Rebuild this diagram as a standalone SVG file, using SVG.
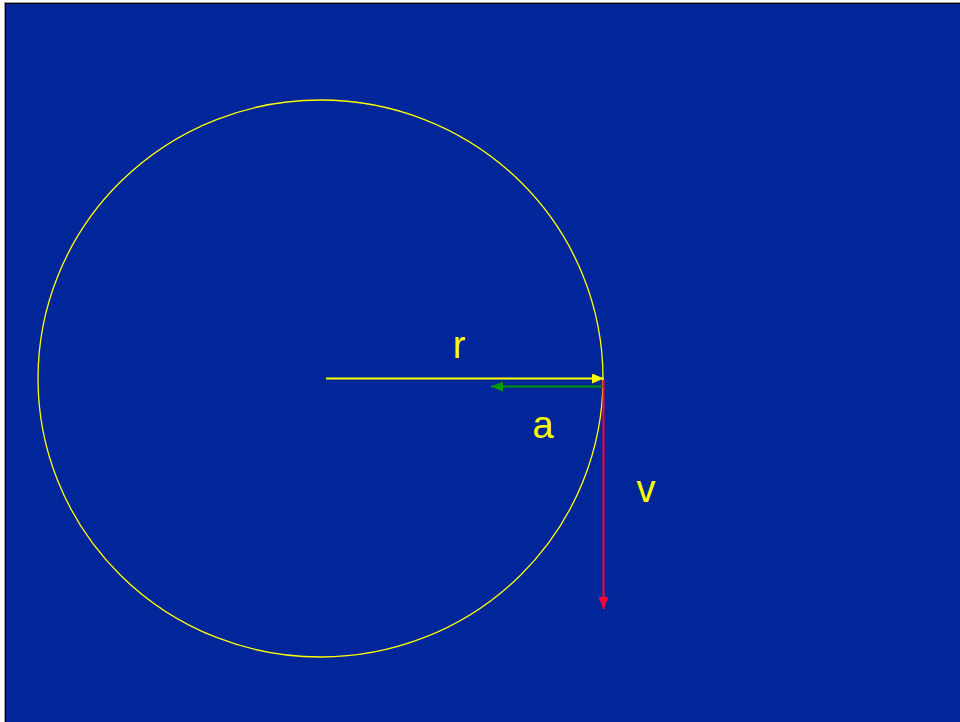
<svg xmlns="http://www.w3.org/2000/svg" width="960" height="722" viewBox="0 0 960 722">
<defs>
<style>
.lbl{font-family:"Liberation Sans",Arial,sans-serif;font-size:38px;fill:#FFFF00}
</style>
<marker id="ay" markerWidth="12" markerHeight="10" refX="12" refY="5" orient="auto" markerUnits="userSpaceOnUse"><path d="M0,0L12,5L0,10z" fill="#FFFF00"/></marker>
<marker id="ag" markerWidth="12" markerHeight="10" refX="12" refY="5" orient="auto" markerUnits="userSpaceOnUse"><path d="M0,0L12,5L0,10z" fill="#009900"/></marker>
<marker id="ar" markerWidth="12" markerHeight="10" refX="12" refY="5" orient="auto" markerUnits="userSpaceOnUse"><path d="M0,0L12,5L0,10z" fill="#FF0033"/></marker>
</defs>
<rect x="0" y="0" width="960" height="722" fill="#ffffff"/>
<rect x="4" y="2" width="958" height="722" fill="#999999"/>
<rect x="5" y="3" width="957" height="721" fill="#000000"/>
<rect x="6" y="4" width="956" height="720" fill="#002699"/>
<g id="circle"><ellipse cx="320.5" cy="378.5" rx="282.5" ry="278.5" fill="none" stroke="#FFFF00" stroke-width="1.3"/></g>
<g id="connectors">
<line x1="326" y1="378.5" x2="604" y2="378.5" stroke="#FFFF00" stroke-width="2" marker-end="url(#ay)"/>
<line x1="603" y1="386.5" x2="491" y2="386.5" stroke="#009900" stroke-width="2" marker-end="url(#ag)"/>
<line x1="603.5" y1="380" x2="603.5" y2="609" stroke="#FF0033" stroke-width="2" marker-end="url(#ar)"/>
</g>
<g id="labels">
<text class="lbl" x="459" y="358" text-anchor="middle">r</text>
<text class="lbl" x="543" y="438" text-anchor="middle">a</text>
<text class="lbl" x="646" y="502" text-anchor="middle">v</text>
</g>
</svg>
